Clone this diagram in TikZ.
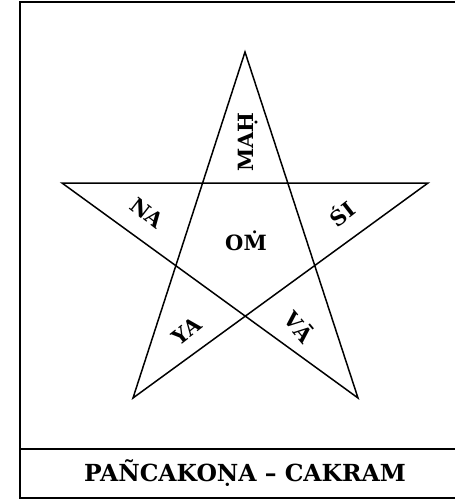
\documentclass[tikz,border=0pt]{standalone}
\usepackage{fontspec}
\setmainfont{DejaVu Serif}
\usepackage{tikz}

\tikzset{
  frame/.style={line width=2pt},
  starline/.style={line width=1.5pt, line join=miter},
  mantra/.style={font=\fontsize{21}{24}\selectfont\bfseries, inner sep=0pt},
  caption/.style={font=\fontsize{23.5}{27}\selectfont\bfseries, inner sep=0pt}
}

\begin{document}
\begin{tikzpicture}[x=1pt, y=-1pt]

\useasboundingbox (0,0) rectangle (455,501);

% --- RAHMEN ---
\draw[frame] (460,1.5) -- (20,1.5) -- (20,497.5) -- (460,497.5);
\draw[frame] (20,449) -- (460,449);

% --- STERN ---
\coordinate (top) at (245,52);
\coordinate (left) at (62,183);
\coordinate (right) at (428,183);
\coordinate (botleft) at (133,398);
\coordinate (botright) at (358,398);

\draw[starline] (top) -- (botleft) -- (right) -- (left) -- (botright) -- cycle;

% --- SILBEN ---
\node[mantra, rotate=90] (mah) at (248,142) {MAḤ};
\node[mantra, rotate=-38] (na) at (147,213) {NA};
\node[mantra, rotate=38] (si) at (341,213) {ŚI};
\node[mantra] (om) at (246,241) {OṀ};
\node[mantra, rotate=38] (ya) at (187,331) {YA};
\node[mantra, rotate=-50] (va) at (300,326) {VĀ};

% --- TITEL ---
\node[caption] (title) at (245,473) {PAÑCAKOṆA – CAKRAM};

\end{tikzpicture}
\end{document}
